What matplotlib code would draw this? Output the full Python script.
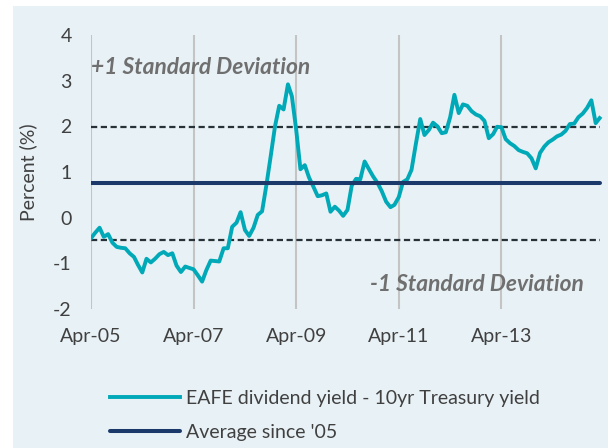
import matplotlib
matplotlib.use("Agg")
import matplotlib.pyplot as plt
import matplotlib.dates as mdates
from matplotlib.patches import Rectangle
import pandas as pd

plt.rcParams['font.family'] = ['Lato', 'DejaVu Sans']
plt.rcParams['axes.unicode_minus'] = False

# monthly spread, EAFE dividend yield minus 10yr Treasury yield (%)
start = '2005-04-01'
spread = [
    -0.45, -0.33, -0.22, -0.42, -0.36, -0.55, -0.64, -0.66, -0.67, -0.78,
    -0.86, -1.03, -1.20, -0.90, -0.98, -0.90, -0.80, -0.75, -0.82, -0.78,
    -1.05, -1.19, -1.07, -1.10, -1.13, -1.26, -1.40, -1.15, -0.94, -0.95,
    -0.96, -0.67, -0.67, -0.20, -0.11, 0.12, -0.27, -0.40, -0.22, 0.06,
    0.14, 0.72, 1.34, 2.00, 2.45, 2.37, 2.92, 2.66, 1.92, 1.06,
    1.15, 0.88, 0.68, 0.47, 0.49, 0.53, 0.13, 0.24, 0.15, 0.04,
    0.17, 0.70, 0.85, 0.84, 1.23, 1.06, 0.90, 0.76, 0.58, 0.35,
    0.23, 0.28, 0.45, 0.78, 0.84, 1.05, 1.62, 2.16, 1.81, 1.92,
    2.08, 2.00, 1.85, 1.87, 2.20, 2.69, 2.29, 2.48, 2.45, 2.33,
    2.26, 2.22, 2.12, 1.74, 1.83, 1.99, 1.98, 1.72, 1.63, 1.57,
    1.48, 1.44, 1.41, 1.30, 1.08, 1.42, 1.56, 1.65, 1.71, 1.78,
    1.82, 1.90, 2.05, 2.06, 2.20, 2.28, 2.40, 2.57, 2.07, 2.18,
]
average = 0.75
plus_sd = 1.98
minus_sd = -0.48

dates = pd.date_range(start, periods=len(spread), freq='MS')

teal = '#00A9B7'
navy = '#1B3A6B'
bg = '#E8F1F5'
txt = '#404040'

fig = plt.figure(figsize=(6.08, 4.48), dpi=100)
fig.patches.append(Rectangle((13 / 608, 0), 1, 1 - 6 / 448, transform=fig.transFigure,
                             facecolor=bg, edgecolor='none', zorder=-10))

ax = fig.add_axes([91 / 608, 1 - 309 / 448, 512 / 608, 274 / 448])
ax.set_facecolor('none')

ax.plot(dates, spread, color=teal, lw=2.8, zorder=3,
        label='EAFE dividend yield - 10yr Treasury yield')
ax.plot([dates[0], dates[-1]], [average, average], color=navy, lw=2.9, zorder=4,
        solid_capstyle='round', label="Average since '05")
for lvl in (plus_sd, minus_sd):
    ax.plot([dates[0], dates[-1]], [lvl, lvl], color='#263238', lw=1.6,
            dashes=(2.8, 1.6), zorder=2)

ax.text(dates[0], 3.28, '+1 Standard Deviation', fontsize=16.4, fontweight='bold',
        style='italic', color='#6f6f6f', va='center', ha='left')
ax.text(pd.Timestamp('2014-11-06'), -1.47, '-1 Standard Deviation', fontsize=16.4,
        fontweight='bold', style='italic', color='#6f6f6f', va='center', ha='right')

ax.set_ylim(-2, 4)
ax.set_xlim(dates[0], pd.Timestamp('2015-03-25'))
ax.set_yticks(range(-2, 5))
ax.xaxis.set_major_locator(mdates.MonthLocator(bymonth=4, interval=24))
ax.xaxis.set_major_formatter(mdates.DateFormatter('%b-%y'))
ax.grid(axis='x', color='#C4C4C4', lw=1.5)
ax.set_axisbelow(True)
ax.tick_params(length=0, labelsize=14, labelcolor=txt)
ax.tick_params(axis='x', pad=14)
ax.tick_params(axis='y', pad=14)
for s in ax.spines.values():
    s.set_visible(False)
ax.set_ylabel('Percent (%)', fontsize=14, color=txt)
ax.yaxis.set_label_coords(-0.105, 0.5)

leg = fig.legend(loc='upper left', bbox_to_anchor=(92 / 608, 1 - 372 / 448),
                 frameon=False, fontsize=14, handlelength=3.6, handletextpad=0.36,
                 labelspacing=0.9, labelcolor=txt)

fig.savefig('out.png', dpi=100)
